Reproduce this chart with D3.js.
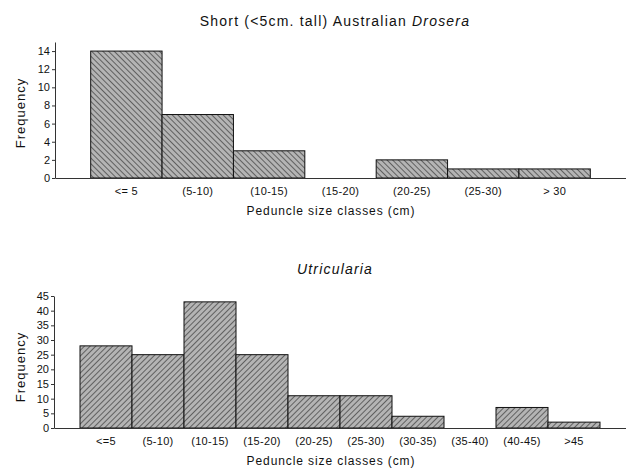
<!DOCTYPE html>
<html>
<head>
<meta charset="utf-8">
<script src="https://cdn.jsdelivr.net/npm/d3@7"></script>
<style>
  body { margin: 0; background: #fff; }
  text { font-family: "Liberation Sans", Arial, sans-serif; fill: #111; }
</style>
</head>
<body>
<svg width="626" height="471"></svg>
<script>
// top panel: short australian drosera
var droseraClasses = ['<= 5', '(5-10)', '(10-15)', '(15-20)', '(20-25)', '(25-30)', '> 30'];
var droseraCounts = [14, 7, 3, 0, 2, 1, 1];
var droseraTicks = [0, 2, 4, 6, 8, 10, 12, 14];

// bottom panel: utricularia
var utricClasses = ['<=5', '(5-10)', '(10-15)', '(15-20)', '(20-25)', '(25-30)', '(30-35)', '(35-40)', '(40-45)', '>45'];
var utricCounts = [28, 25, 43, 25, 11, 11, 4, 0, 7, 2];
var utricTicks = [0, 5, 10, 15, 20, 25, 30, 35, 40, 45];

var svg = d3.select('svg');
var defs = svg.append('defs');

// hatch patterns, one leaning each way
function hatch(id, angle) {
  var p = defs.append('pattern')
    .attr('id', id)
    .attr('patternUnits', 'userSpaceOnUse')
    .attr('width', 4).attr('height', 4)
    .attr('patternTransform', 'rotate(' + angle + ')');
  p.append('rect').attr('width', 4).attr('height', 4).attr('fill', '#b4b4b4');
  p.append('line')
    .attr('x1', 0).attr('y1', 0).attr('x2', 0).attr('y2', 4)
    .attr('stroke', '#4a4a4a').attr('stroke-width', 1.6);
}
hatch('hatchDown', -45);
hatch('hatchUp', 45);

function panel(opts) {
  var g = svg.append('g');

  var x = d3.scaleBand()
    .domain(opts.classes)
    .range([opts.left, opts.right])
    .paddingInner(0)
    .paddingOuter(0.5);

  var y = d3.scaleLinear()
    .domain([0, opts.yMax])
    .range([opts.base, opts.top]);

  // bars
  g.selectAll('rect.bar')
    .data(opts.counts)
    .enter()
    .append('rect')
    .attr('class', 'bar')
    .attr('x', function(d, i) { return x(opts.classes[i]); })
    .attr('y', function(d) { return y(d); })
    .attr('width', x.bandwidth())
    .attr('height', function(d) { return opts.base - y(d); })
    .attr('fill', 'url(#' + opts.pattern + ')')
    .attr('stroke', function(d) { return d > 0 ? '#111' : 'none'; })
    .attr('stroke-width', 1);

  // y axis
  var ya = g.append('g')
    .attr('transform', 'translate(' + opts.left + ',0)')
    .call(d3.axisLeft(y).tickValues(opts.ticks).tickSize(3).tickPadding(2).tickSizeOuter(0));
  ya.select('.domain').attr('stroke', '#333');
  ya.selectAll('.tick line').attr('stroke', '#333');
  ya.selectAll('.tick text')
    .style('font-family', '"Liberation Sans", Arial, sans-serif')
    .style('font-size', '11px')
    .attr('fill', '#111');

  // x axis
  var xa = g.append('g')
    .attr('transform', 'translate(0,' + opts.base + ')')
    .call(d3.axisBottom(x).tickSize(0).tickPadding(9).tickSizeOuter(0));
  xa.select('.domain').attr('stroke', '#333');
  xa.selectAll('.tick text')
    .style('font-family', '"Liberation Sans", Arial, sans-serif')
    .style('font-size', '11px')
    .style('letter-spacing', '0.3px')
    .attr('fill', '#111');

  // labels
  g.append('text')
    .attr('x', 331).attr('y', opts.base + 37)
    .attr('text-anchor', 'middle')
    .style('font-size', '12px')
    .style('letter-spacing', '0.9px')
    .text('Peduncle size classes (cm)');

  g.append('text')
    .attr('transform', 'translate(' + 25 + ',' + opts.labelY + ') rotate(-90)')
    .attr('text-anchor', 'middle')
    .style('font-size', '13px')
    .style('letter-spacing', '1px')
    .text('Frequency');

  var t = g.append('text')
    .attr('x', 335).attr('y', opts.titleY)
    .attr('text-anchor', 'middle')
    .style('font-size', '14px')
    .style('letter-spacing', '1.2px');
  opts.title.forEach(function(part) {
    t.append('tspan')
      .style('font-style', part.italic ? 'italic' : 'normal')
      .text(part.text);
  });
}

panel({
  classes: droseraClasses, counts: droseraCounts, ticks: droseraTicks,
  yMax: 15, left: 55, right: 626, base: 178, top: 42,
  pattern: 'hatchDown', labelY: 113, titleY: 26,
  title: [{text: 'Short (<5cm. tall) Australian '}, {text: 'Drosera', italic: true}]
});

panel({
  classes: utricClasses, counts: utricCounts, ticks: utricTicks,
  yMax: 45, left: 54, right: 626, base: 428, top: 296,
  pattern: 'hatchUp', labelY: 367, titleY: 274,
  title: [{text: 'Utricularia', italic: true}]
});
</script>
</body>
</html>
